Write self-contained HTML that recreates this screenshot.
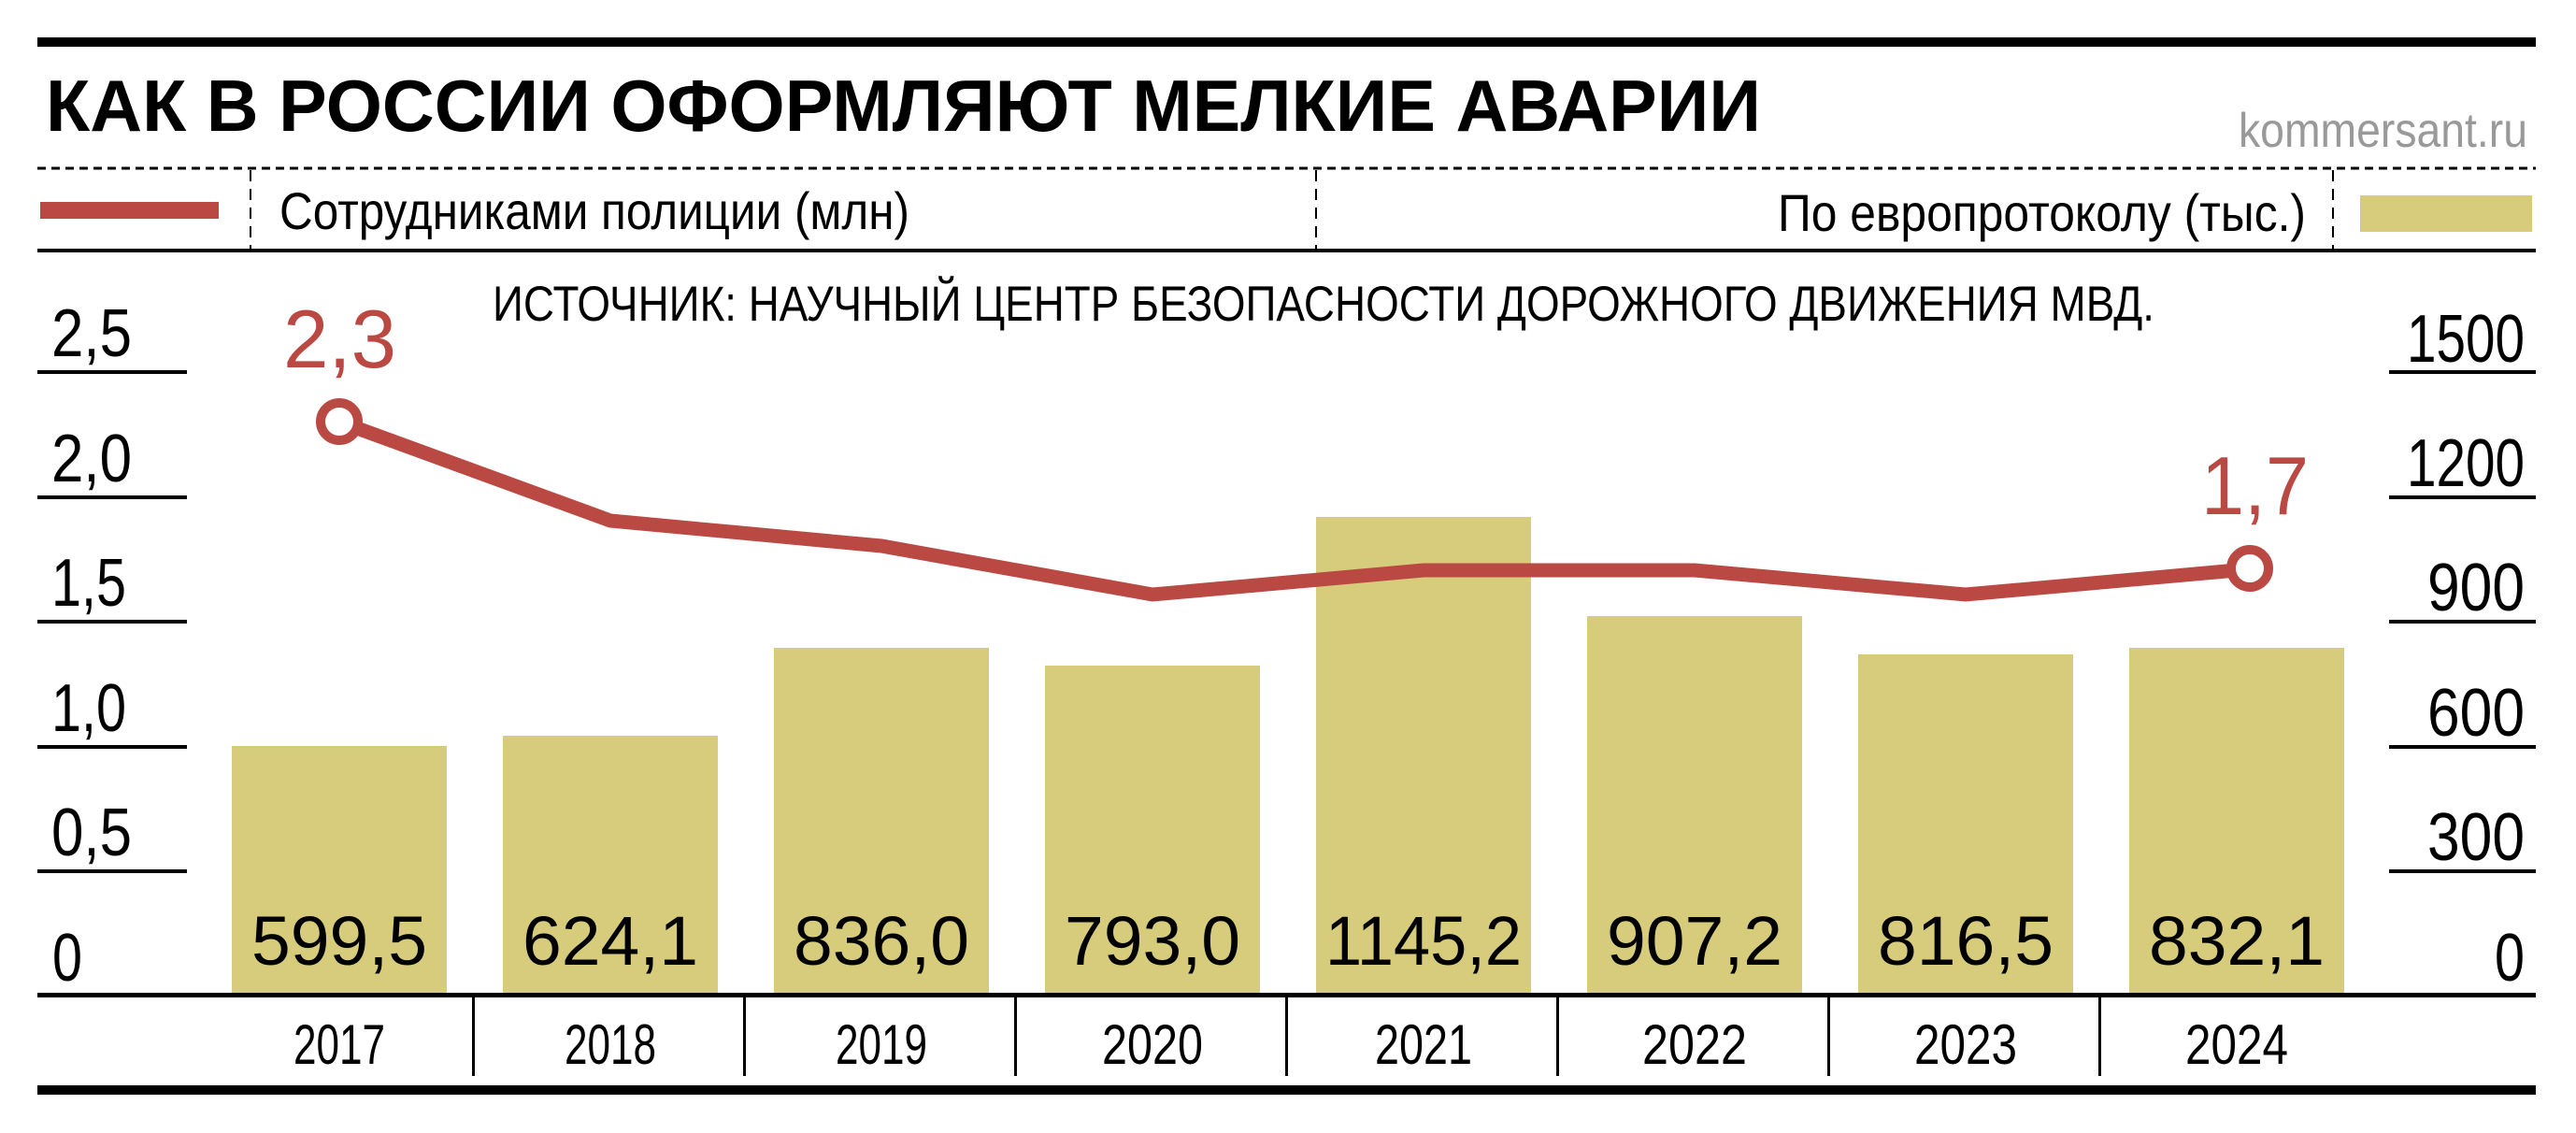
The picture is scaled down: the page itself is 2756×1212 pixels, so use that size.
<!DOCTYPE html>
<html><head><meta charset="utf-8"><style>
html,body{margin:0;padding:0;background:#fff;}
svg{display:block;}
text{font-family:"Liberation Sans",sans-serif;}
</style></head><body>
<svg width="2756" height="1212" viewBox="0 0 2756 1212" xmlns="http://www.w3.org/2000/svg">
<rect x="0" y="0" width="2756" height="1212" fill="#fff"/>
<rect x="40" y="40" width="2673" height="10" fill="#000"/>
<text x="49" y="140" font-size="78" font-weight="bold" textLength="1835" lengthAdjust="spacingAndGlyphs">КАК В РОССИИ ОФОРМЛЯЮТ МЕЛКИЕ АВАРИИ</text>
<text x="2395" y="157" font-size="52" fill="#999" textLength="309" lengthAdjust="spacingAndGlyphs">kommersant.ru</text>
<line x1="40" y1="180" x2="2713" y2="180" stroke="#000" stroke-width="3" stroke-dasharray="9,6"/>
<line x1="268" y1="182" x2="268" y2="266" stroke="#000" stroke-width="2" stroke-dasharray="12,8"/>
<line x1="1408" y1="182" x2="1408" y2="266" stroke="#000" stroke-width="2" stroke-dasharray="12,8"/>
<line x1="2496" y1="182" x2="2496" y2="266" stroke="#000" stroke-width="2" stroke-dasharray="12,8"/>
<rect x="43" y="216" width="191" height="18" fill="#bb4943"/>
<text x="299" y="245" font-size="56" textLength="674" lengthAdjust="spacingAndGlyphs">Сотрудниками полиции (млн)</text>
<text x="1902" y="247" font-size="56" textLength="565" lengthAdjust="spacingAndGlyphs">По европротоколу (тыс.)</text>
<rect x="2525" y="209" width="184" height="39" fill="#d7cc7c"/>
<rect x="40" y="266" width="2673" height="4" fill="#000"/>
<text x="527" y="343" font-size="53" textLength="1778" lengthAdjust="spacingAndGlyphs">ИСТОЧНИК: НАУЧНЫЙ ЦЕНТР БЕЗОПАСНОСТИ ДОРОЖНОГО ДВИЖЕНИЯ МВД.</text>
<g fill="#000">
<rect x="40" y="396" width="160" height="4"/>
<rect x="40" y="530" width="160" height="4"/>
<rect x="40" y="663" width="160" height="4"/>
<rect x="40" y="797" width="160" height="4"/>
<rect x="40" y="930" width="160" height="4"/>
<rect x="2556" y="396" width="157" height="4"/>
<rect x="2556" y="530" width="157" height="4"/>
<rect x="2556" y="663" width="157" height="4"/>
<rect x="2556" y="797" width="157" height="4"/>
<rect x="2556" y="930" width="157" height="4"/>
</g>
<g font-size="72">
<text x="55" y="381" textLength="86" lengthAdjust="spacingAndGlyphs">2,5</text>
<text x="55" y="515" textLength="86" lengthAdjust="spacingAndGlyphs">2,0</text>
<text x="55" y="648" textLength="80" lengthAdjust="spacingAndGlyphs">1,5</text>
<text x="55" y="782" textLength="80" lengthAdjust="spacingAndGlyphs">1,0</text>
<text x="55" y="915" textLength="86" lengthAdjust="spacingAndGlyphs">0,5</text>
<text x="56" y="1049" textLength="32" lengthAdjust="spacingAndGlyphs">0</text>
<g text-anchor="end">
<text x="2701" y="387" textLength="126" lengthAdjust="spacingAndGlyphs">1500</text>
<text x="2701" y="520" textLength="126" lengthAdjust="spacingAndGlyphs">1200</text>
<text x="2701" y="653" textLength="104" lengthAdjust="spacingAndGlyphs">900</text>
<text x="2701" y="787" textLength="104" lengthAdjust="spacingAndGlyphs">600</text>
<text x="2701" y="920" textLength="104" lengthAdjust="spacingAndGlyphs">300</text>
<text x="2701" y="1049" textLength="32" lengthAdjust="spacingAndGlyphs">0</text>
</g>
</g>
<g fill="#d7cc7c">
<rect x="248" y="798" width="230" height="267"/>
<rect x="538" y="787" width="230" height="278"/>
<rect x="828" y="693" width="230" height="372"/>
<rect x="1118" y="712" width="230" height="353"/>
<rect x="1408" y="553" width="230" height="512"/>
<rect x="1698" y="659" width="230" height="406"/>
<rect x="1988" y="700" width="230" height="365"/>
<rect x="2278" y="693" width="230" height="372"/>
</g>
<g font-size="74" text-anchor="middle">
<text x="363" y="1032" textLength="188" lengthAdjust="spacingAndGlyphs">599,5</text>
<text x="653" y="1032" textLength="188" lengthAdjust="spacingAndGlyphs">624,1</text>
<text x="943" y="1032" textLength="188" lengthAdjust="spacingAndGlyphs">836,0</text>
<text x="1233" y="1032" textLength="188" lengthAdjust="spacingAndGlyphs">793,0</text>
<text x="1523" y="1032" textLength="210" lengthAdjust="spacingAndGlyphs">1145,2</text>
<text x="1813" y="1032" textLength="188" lengthAdjust="spacingAndGlyphs">907,2</text>
<text x="2103" y="1032" textLength="188" lengthAdjust="spacingAndGlyphs">816,5</text>
<text x="2393" y="1032" textLength="188" lengthAdjust="spacingAndGlyphs">832,1</text>
</g>
<rect x="40" y="1062" width="2673" height="5" fill="#000"/>
<g fill="#000">
<rect x="505" y="1065" width="3" height="86"/>
<rect x="795" y="1065" width="3" height="86"/>
<rect x="1085" y="1065" width="3" height="86"/>
<rect x="1375" y="1065" width="3" height="86"/>
<rect x="1665" y="1065" width="3" height="86"/>
<rect x="1955" y="1065" width="3" height="86"/>
<rect x="2245" y="1065" width="3" height="86"/>
</g>
<g font-size="60" text-anchor="middle">
<text x="363" y="1138" textLength="98" lengthAdjust="spacingAndGlyphs">2017</text>
<text x="653" y="1138" textLength="98" lengthAdjust="spacingAndGlyphs">2018</text>
<text x="943" y="1138" textLength="98" lengthAdjust="spacingAndGlyphs">2019</text>
<text x="1233" y="1138" textLength="108" lengthAdjust="spacingAndGlyphs">2020</text>
<text x="1523" y="1138" textLength="104" lengthAdjust="spacingAndGlyphs">2021</text>
<text x="1813" y="1138" textLength="112" lengthAdjust="spacingAndGlyphs">2022</text>
<text x="2103" y="1138" textLength="110" lengthAdjust="spacingAndGlyphs">2023</text>
<text x="2393" y="1138" textLength="110" lengthAdjust="spacingAndGlyphs">2024</text>
</g>
<rect x="40" y="1161" width="2673" height="10" fill="#000"/>
<polyline points="363,451 653,557 943,584 1233,636 1523,610 1813,610 2103,636 2393,610" fill="none" stroke="#bb4943" stroke-width="15" stroke-linejoin="miter"/>
<circle cx="363" cy="451" r="20" fill="#fff" stroke="#bb4943" stroke-width="10"/>
<circle cx="2407" cy="608" r="20" fill="#fff" stroke="#bb4943" stroke-width="10"/>
<text x="303" y="393" font-size="88" fill="#bb4943" textLength="121" lengthAdjust="spacingAndGlyphs">2,3</text>
<text x="2355" y="550" font-size="88" fill="#bb4943" textLength="115" lengthAdjust="spacingAndGlyphs">1,7</text>
</svg>
</body></html>
